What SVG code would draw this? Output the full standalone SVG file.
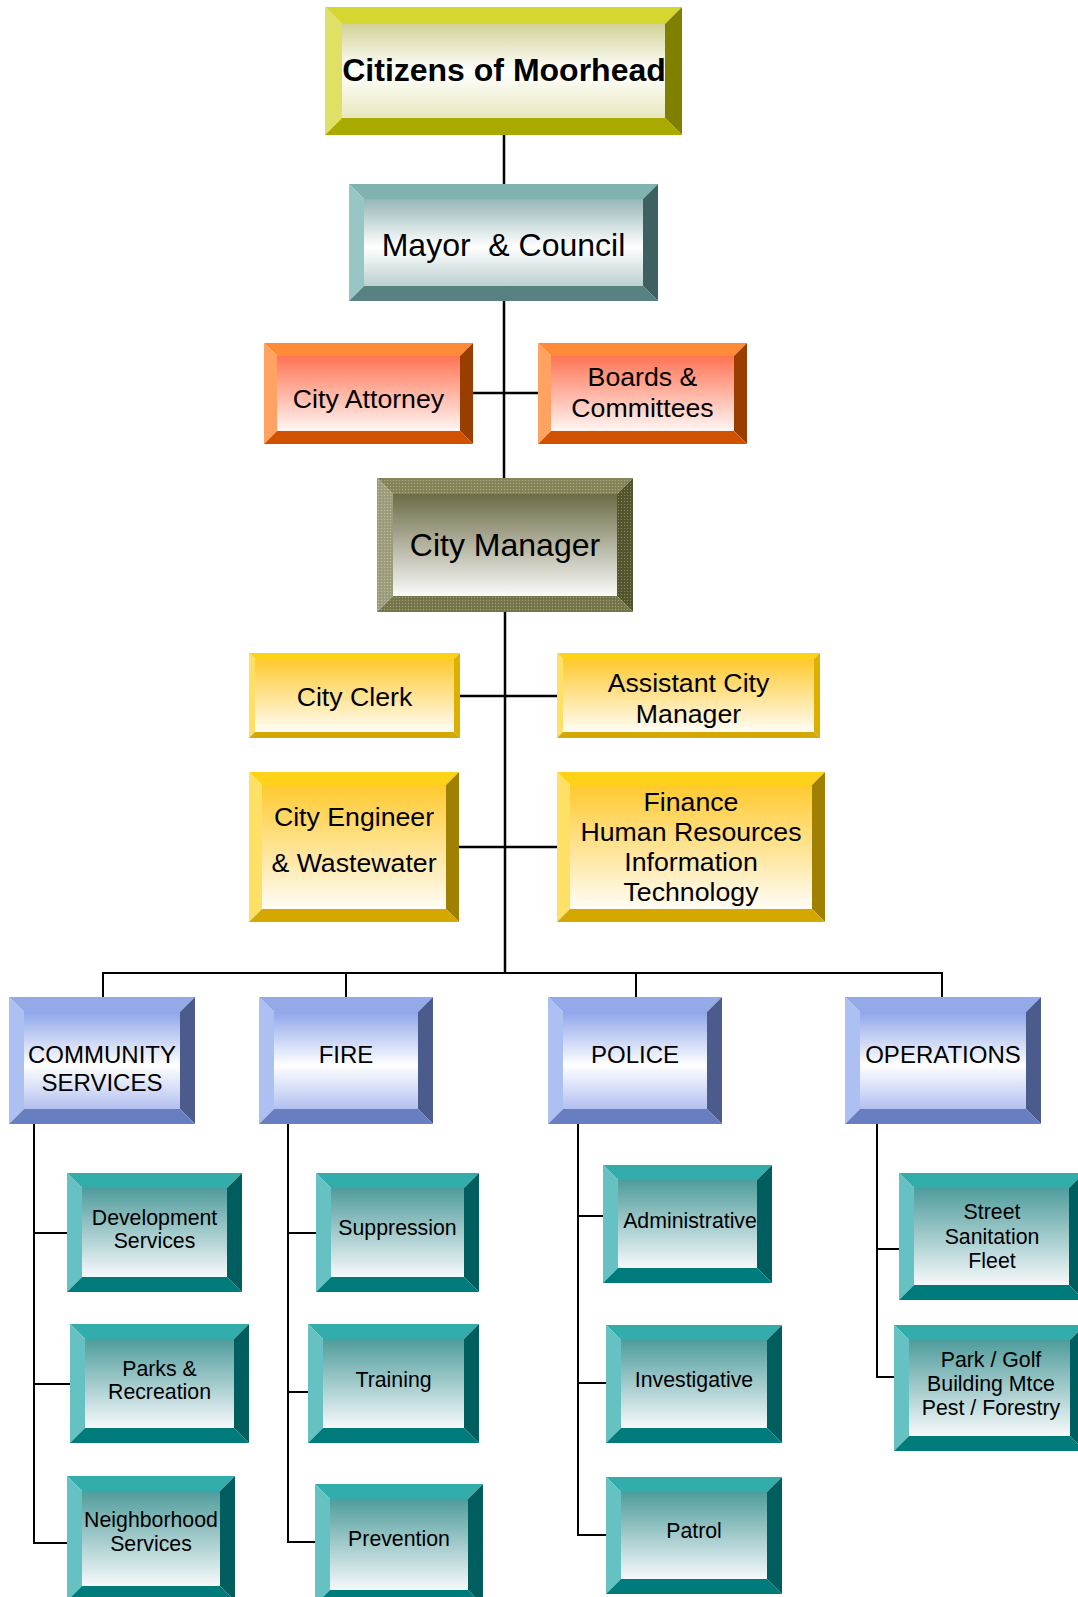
<svg xmlns="http://www.w3.org/2000/svg" width="1078" height="1597" viewBox="0 0 1078 1597">
<defs>
<linearGradient id="gCit" x1="0" y1="0" x2="0" y2="1"><stop offset="0" stop-color="#d2d296"/><stop offset="0.5" stop-color="#ffffff"/><stop offset="1" stop-color="#e8e8bd"/></linearGradient>
<linearGradient id="gMay" x1="0" y1="0" x2="0" y2="1"><stop offset="0" stop-color="#96b6b6"/><stop offset="0.55" stop-color="#ffffff"/><stop offset="1" stop-color="#bcd0d0"/></linearGradient>
<linearGradient id="gOra" x1="0" y1="0" x2="0" y2="1"><stop offset="0" stop-color="#ff7454"/><stop offset="1" stop-color="#fff6f4"/></linearGradient>
<linearGradient id="gYel" x1="0" y1="0" x2="0" y2="1"><stop offset="0" stop-color="#ffc92e"/><stop offset="1" stop-color="#fffdf6"/></linearGradient>
<linearGradient id="gMgr" x1="0" y1="0" x2="0" y2="1"><stop offset="0" stop-color="#6c6c46"/><stop offset="1" stop-color="#fafafa"/></linearGradient>
<linearGradient id="gBlu" x1="0" y1="0" x2="0" y2="1"><stop offset="0" stop-color="#8fa6ea"/><stop offset="0.55" stop-color="#ffffff"/><stop offset="1" stop-color="#b2c0f0"/></linearGradient>
<linearGradient id="gTeal" x1="0" y1="0" x2="0" y2="1"><stop offset="0" stop-color="#4f9c9c"/><stop offset="1" stop-color="#f6f9fb"/></linearGradient>
<pattern id="grain" width="3" height="3" patternUnits="userSpaceOnUse"><rect x="0" y="0" width="1" height="1" fill="#ffffff" fill-opacity="0.3"/><rect x="1.5" y="1.5" width="1" height="1" fill="#000000" fill-opacity="0.15"/></pattern>
</defs>
<style>
text{font-family:"Liberation Sans",Arial,sans-serif;fill:#000;text-anchor:middle}
.big{font-size:32px}
.bold{font-weight:bold}
.m{font-size:26.7px}
.d{font-size:24px}
.s{font-size:21.3px}
.ln{stroke:#000;stroke-width:2.5;fill:none}
.ln2{stroke:#000;stroke-width:2;fill:none}
.cit .t{fill:#d6d630}.cit .l{fill:#e0e066}.cit .r{fill:#808000}.cit .b{fill:#a9a900}.cit .i{fill:url(#gCit)}
.may .t{fill:#80b2b0}.may .l{fill:#98c6c4}.may .r{fill:#3e6060}.may .b{fill:#588282}.may .i{fill:url(#gMay)}
.ora .t{fill:#ff8a38}.ora .l{fill:#ffa262}.ora .r{fill:#993d00}.ora .b{fill:#d05200}.ora .i{fill:url(#gOra)}
.yel .t{fill:#ffd21a}.yel .l{fill:#ffe066}.yel .r{fill:#a08000}.yel .b{fill:#d4a800}.yel .i{fill:url(#gYel)}
.yel.thin .r{fill:#dcb000}
.mgr .t{fill:#87875a}.mgr .l{fill:#a0a07e}.mgr .r{fill:#56562e}.mgr .b{fill:#78784c}.mgr .i{fill:url(#gMgr)}
.blu .t{fill:#94aae8}.blu .l{fill:#adc0f2}.blu .r{fill:#4b5c8c}.blu .b{fill:#687ec0}.blu .i{fill:url(#gBlu)}
.teal .t{fill:#33acac}.teal .l{fill:#66c2c2}.teal .r{fill:#005e5e}.teal .b{fill:#007b7b}.teal .i{fill:url(#gTeal)}
</style>
<rect x="0" y="0" width="1078" height="1597" fill="#ffffff"/>

<g id="connectors">
<path class="ln" d="M504 135V184M504 301V478M473 393H538"/>
<path class="ln" d="M505 612V973M459 696H557M459 847H557"/>
<path class="ln2" d="M103 997V973H942V997M346 973V997M636 973V997"/>
<path class="ln2" d="M34 1124V1543H67M34 1233H67M34 1384H70"/>
<path class="ln2" d="M288 1124V1542H315M288 1233H316M288 1392H308"/>
<path class="ln2" d="M578 1124V1535H606M578 1216H603M578 1383H606"/>
<path class="ln2" d="M877 1124V1377H894M877 1249H899"/>
</g>

<g id="citizens" class="cit">
<polygon class="t" points="325,7 682,7 665,24 342,24"/>
<polygon class="l" points="325,7 342,24 342,118 325,135"/>
<polygon class="r" points="682,7 682,135 665,118 665,24"/>
<polygon class="b" points="325,135 342,118 665,118 682,135"/>
<rect class="i" x="342" y="24" width="323" height="94"/>
<text class="big bold" x="504" y="81">Citizens of Moorhead</text>
</g>

<g id="mayor" class="may">
<polygon class="t" points="349,184 658,184 643,199 364,199"/>
<polygon class="l" points="349,184 364,199 364,286 349,301"/>
<polygon class="r" points="658,184 658,301 643,286 643,199"/>
<polygon class="b" points="349,301 364,286 643,286 658,301"/>
<rect class="i" x="364" y="199" width="279" height="87"/>
<text class="big" x="503.5" y="256" xml:space="preserve">Mayor  &amp; Council</text>
</g>

<g id="attorney" class="ora">
<polygon class="t" points="264,343 473,343 460,356 277,356"/>
<polygon class="l" points="264,343 277,356 277,431 264,444"/>
<polygon class="r" points="473,343 473,444 460,431 460,356"/>
<polygon class="b" points="264,444 277,431 460,431 473,444"/>
<rect class="i" x="277" y="356" width="183" height="75"/>
<text class="m" x="368.5" y="408">City Attorney</text>
</g>

<g id="boards" class="ora">
<polygon class="t" points="538,343 747,343 734,356 551,356"/>
<polygon class="l" points="538,343 551,356 551,431 538,444"/>
<polygon class="r" points="747,343 747,444 734,431 734,356"/>
<polygon class="b" points="538,444 551,431 734,431 747,444"/>
<rect class="i" x="551" y="356" width="183" height="75"/>
<text class="m" x="642.5" y="386">Boards &amp;</text>
<text class="m" x="642.5" y="417">Committees</text>
</g>

<g id="manager" class="mgr">
<polygon class="t" points="377,478 633,478 617,494 393,494"/>
<polygon class="l" points="377,478 393,494 393,596 377,612"/>
<polygon class="r" points="633,478 633,612 617,596 617,494"/>
<polygon class="b" points="377,612 393,596 617,596 633,612"/>
<rect x="377" y="478" width="256" height="134" fill="url(#grain)"/>
<rect class="i" x="393" y="494" width="224" height="102"/>
<text class="big" x="505" y="556">City Manager</text>
</g>

<g id="clerk" class="yel thin">
<polygon class="t" points="249,653 460,653 454,659 255,659"/>
<polygon class="l" points="249,653 255,659 255,732 249,738"/>
<polygon class="r" points="460,653 460,738 454,732 454,659"/>
<polygon class="b" points="249,738 255,732 454,732 460,738"/>
<rect class="i" x="255" y="659" width="199" height="73"/>
<text class="m" x="354.5" y="706">City Clerk</text>
</g>

<g id="assistant" class="yel thin">
<polygon class="t" points="557,653 820,653 814,659 563,659"/>
<polygon class="l" points="557,653 563,659 563,732 557,738"/>
<polygon class="r" points="820,653 820,738 814,732 814,659"/>
<polygon class="b" points="557,738 563,732 814,732 820,738"/>
<rect class="i" x="563" y="659" width="251" height="73"/>
<text class="m" x="688.5" y="692">Assistant City</text>
<text class="m" x="688.5" y="723">Manager</text>
</g>

<g id="engineer" class="yel">
<polygon class="t" points="249,772 459,772 446,785 262,785"/>
<polygon class="l" points="249,772 262,785 262,909 249,922"/>
<polygon class="r" points="459,772 459,922 446,909 446,785"/>
<polygon class="b" points="249,922 262,909 446,909 459,922"/>
<rect class="i" x="262" y="785" width="184" height="124"/>
<text class="m" x="354" y="826">City Engineer</text>
<text class="m" x="354" y="872">&amp; Wastewater</text>
</g>

<g id="finance" class="yel">
<polygon class="t" points="557,772 825,772 812,785 570,785"/>
<polygon class="l" points="557,772 570,785 570,909 557,922"/>
<polygon class="r" points="825,772 825,922 812,909 812,785"/>
<polygon class="b" points="557,922 570,909 812,909 825,922"/>
<rect class="i" x="570" y="785" width="242" height="124"/>
<text class="m" x="691" y="811">Finance</text>
<text class="m" x="691" y="841">Human Resources</text>
<text class="m" x="691" y="871">Information</text>
<text class="m" x="691" y="901">Technology</text>
</g>

<g id="community" class="blu">
<polygon class="t" points="9,997 195,997 180,1012 24,1012"/>
<polygon class="l" points="9,997 24,1012 24,1109 9,1124"/>
<polygon class="r" points="195,997 195,1124 180,1109 180,1012"/>
<polygon class="b" points="9,1124 24,1109 180,1109 195,1124"/>
<rect class="i" x="24" y="1012" width="156" height="97"/>
<text class="d" x="102" y="1063">COMMUNITY</text>
<text class="d" x="102" y="1091">SERVICES</text>
</g>

<g id="fire" class="blu">
<polygon class="t" points="259,997 433,997 418,1012 274,1012"/>
<polygon class="l" points="259,997 274,1012 274,1109 259,1124"/>
<polygon class="r" points="433,997 433,1124 418,1109 418,1012"/>
<polygon class="b" points="259,1124 274,1109 418,1109 433,1124"/>
<rect class="i" x="274" y="1012" width="144" height="97"/>
<text class="d" x="346" y="1063">FIRE</text>
</g>

<g id="police" class="blu">
<polygon class="t" points="548,997 722,997 707,1012 563,1012"/>
<polygon class="l" points="548,997 563,1012 563,1109 548,1124"/>
<polygon class="r" points="722,997 722,1124 707,1109 707,1012"/>
<polygon class="b" points="548,1124 563,1109 707,1109 722,1124"/>
<rect class="i" x="563" y="1012" width="144" height="97"/>
<text class="d" x="635" y="1063">POLICE</text>
</g>

<g id="operations" class="blu">
<polygon class="t" points="845,997 1041,997 1026,1012 860,1012"/>
<polygon class="l" points="845,997 860,1012 860,1109 845,1124"/>
<polygon class="r" points="1041,997 1041,1124 1026,1109 1026,1012"/>
<polygon class="b" points="845,1124 860,1109 1026,1109 1041,1124"/>
<rect class="i" x="860" y="1012" width="166" height="97"/>
<text class="d" x="943" y="1063">OPERATIONS</text>
</g>

<g id="development" class="teal">
<polygon class="t" points="67,1173 242,1173 227,1188 82,1188"/>
<polygon class="l" points="67,1173 82,1188 82,1277 67,1292"/>
<polygon class="r" points="242,1173 242,1292 227,1277 227,1188"/>
<polygon class="b" points="67,1292 82,1277 227,1277 242,1292"/>
<rect class="i" x="82" y="1188" width="145" height="89"/>
<text class="s" x="154.5" y="1225">Development</text>
<text class="s" x="154.5" y="1248">Services</text>
</g>

<g id="parks" class="teal">
<polygon class="t" points="70,1324 249,1324 234,1339 85,1339"/>
<polygon class="l" points="70,1324 85,1339 85,1428 70,1443"/>
<polygon class="r" points="249,1324 249,1443 234,1428 234,1339"/>
<polygon class="b" points="70,1443 85,1428 234,1428 249,1443"/>
<rect class="i" x="85" y="1339" width="149" height="89"/>
<text class="s" x="159.5" y="1376">Parks &amp;</text>
<text class="s" x="159.5" y="1399">Recreation</text>
</g>

<g id="neighborhood" class="teal">
<polygon class="t" points="67,1476 235,1476 220,1491 82,1491"/>
<polygon class="l" points="67,1476 82,1491 82,1586 67,1601"/>
<polygon class="r" points="235,1476 235,1601 220,1586 220,1491"/>
<polygon class="b" points="67,1601 82,1586 220,1586 235,1601"/>
<rect class="i" x="82" y="1491" width="138" height="95"/>
<text class="s" x="151" y="1527">Neighborhood</text>
<text class="s" x="151" y="1551">Services</text>
</g>

<g id="suppression" class="teal">
<polygon class="t" points="316,1173 479,1173 464,1188 331,1188"/>
<polygon class="l" points="316,1173 331,1188 331,1277 316,1292"/>
<polygon class="r" points="479,1173 479,1292 464,1277 464,1188"/>
<polygon class="b" points="316,1292 331,1277 464,1277 479,1292"/>
<rect class="i" x="331" y="1188" width="133" height="89"/>
<text class="s" x="397.5" y="1235">Suppression</text>
</g>

<g id="training" class="teal">
<polygon class="t" points="308,1324 479,1324 464,1339 323,1339"/>
<polygon class="l" points="308,1324 323,1339 323,1428 308,1443"/>
<polygon class="r" points="479,1324 479,1443 464,1428 464,1339"/>
<polygon class="b" points="308,1443 323,1428 464,1428 479,1443"/>
<rect class="i" x="323" y="1339" width="141" height="89"/>
<text class="s" x="393.5" y="1387">Training</text>
</g>

<g id="prevention" class="teal">
<polygon class="t" points="315,1484 483,1484 468,1499 330,1499"/>
<polygon class="l" points="315,1484 330,1499 330,1590 315,1605"/>
<polygon class="r" points="483,1484 483,1605 468,1590 468,1499"/>
<polygon class="b" points="315,1605 330,1590 468,1590 483,1605"/>
<rect class="i" x="330" y="1499" width="138" height="91"/>
<text class="s" x="399" y="1546">Prevention</text>
</g>

<g id="administrative" class="teal">
<polygon class="t" points="603,1165 772,1165 757,1180 618,1180"/>
<polygon class="l" points="603,1165 618,1180 618,1268 603,1283"/>
<polygon class="r" points="772,1165 772,1283 757,1268 757,1180"/>
<polygon class="b" points="603,1283 618,1268 757,1268 772,1283"/>
<rect class="i" x="618" y="1180" width="139" height="88"/>
<text class="s" x="690" y="1228">Administrative</text>
</g>

<g id="investigative" class="teal">
<polygon class="t" points="606,1325 782,1325 767,1340 621,1340"/>
<polygon class="l" points="606,1325 621,1340 621,1428 606,1443"/>
<polygon class="r" points="782,1325 782,1443 767,1428 767,1340"/>
<polygon class="b" points="606,1443 621,1428 767,1428 782,1443"/>
<rect class="i" x="621" y="1340" width="146" height="88"/>
<text class="s" x="694" y="1387">Investigative</text>
</g>

<g id="patrol" class="teal">
<polygon class="t" points="606,1477 782,1477 767,1492 621,1492"/>
<polygon class="l" points="606,1477 621,1492 621,1579 606,1594"/>
<polygon class="r" points="782,1477 782,1594 767,1579 767,1492"/>
<polygon class="b" points="606,1594 621,1579 767,1579 782,1594"/>
<rect class="i" x="621" y="1492" width="146" height="87"/>
<text class="s" x="694" y="1538">Patrol</text>
</g>

<g id="street" class="teal">
<polygon class="t" points="899,1173 1084,1173 1069,1188 914,1188"/>
<polygon class="l" points="899,1173 914,1188 914,1285 899,1300"/>
<polygon class="r" points="1084,1173 1084,1300 1069,1285 1069,1188"/>
<polygon class="b" points="899,1300 914,1285 1069,1285 1084,1300"/>
<rect class="i" x="914" y="1188" width="155" height="97"/>
<text class="s" x="992" y="1219">Street</text>
<text class="s" x="992" y="1244">Sanitation</text>
<text class="s" x="992" y="1268">Fleet</text>
</g>

<g id="parkgolf" class="teal">
<polygon class="t" points="894,1325 1085,1325 1070,1340 909,1340"/>
<polygon class="l" points="894,1325 909,1340 909,1436 894,1451"/>
<polygon class="r" points="1085,1325 1085,1451 1070,1436 1070,1340"/>
<polygon class="b" points="894,1451 909,1436 1070,1436 1085,1451"/>
<rect class="i" x="909" y="1340" width="161" height="96"/>
<text class="s" x="991" y="1367">Park / Golf</text>
<text class="s" x="991" y="1391">Building Mtce</text>
<text class="s" x="991" y="1415">Pest / Forestry</text>
</g>
</svg>
